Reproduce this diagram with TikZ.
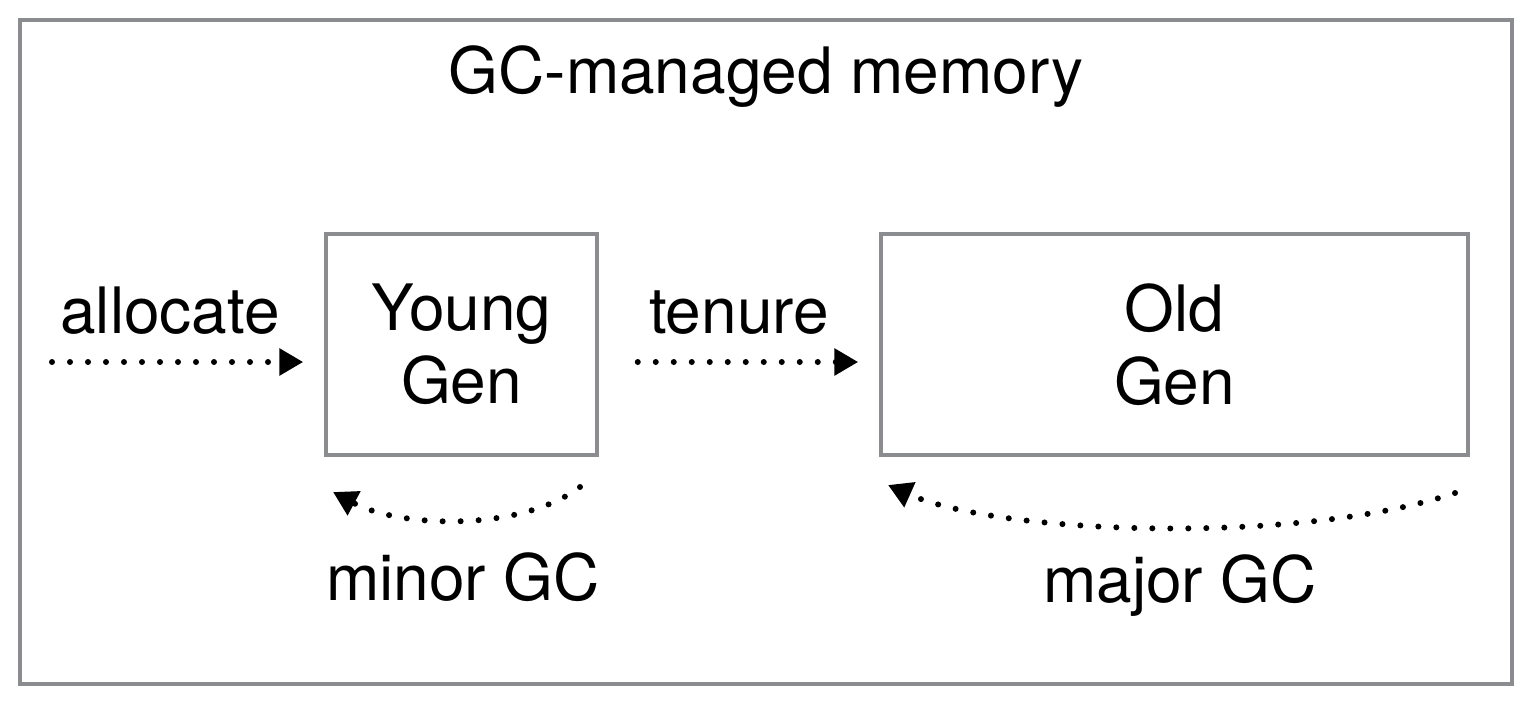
\documentclass[tikz,border=0pt]{standalone}
\usepackage{fontspec}
\setmainfont{TeX Gyre Heros}
\usetikzlibrary{arrows.meta}
\definecolor{framegray}{HTML}{8A8C8F}
\tikzset{
  box/.style={draw=framegray, line width=3.5pt, rectangle, align=center, inner sep=0pt},
  lbl/.style={anchor=base, inner sep=0pt},
  dotarrow/.style={line width=6pt, line cap=round, dash pattern=on 0pt off 18pt,
    -{Triangle[length=24pt,width=26pt,line cap=butt]}},
}
\begin{document}
\begin{tikzpicture}[x=1pt,y=-1pt,font=\fontsize{64}{73}\selectfont]
\useasboundingbox (0,0) rectangle (1538,710);
\node[box, minimum width=1492pt, minimum height=664pt] (mem) at (766,352) {};
\node[lbl] (title) at (766,93) {GC-managed memory};
\node[box, minimum width=271pt, minimum height=221pt] (young) at (461.5,344.5) {Young\\Gen};
\node[box, minimum width=587pt, minimum height=221pt] (old) at (1174.5,344.5) {Old\\Gen};
\node[lbl] (alloc) at (170,333) {allocate};
\node[lbl] (tenure) at (739,333) {tenure};
\node[lbl] (minor) at (463,600) {minor GC};
\node[lbl] (major) at (1180,602) {major GC};
\coordinate (allocstart) at (52,362);
\coordinate (minorstart) at (580,487);
\coordinate (minorend) at (333,492);
\coordinate (majorstart) at (1455,493);
\coordinate (majorend) at (888,485);
\draw[dotarrow, shorten >=21pt] (allocstart) -- (young.west |- allocstart);
\draw[dotarrow, shorten <=39pt, shorten >=21pt] (young.east |- allocstart) -- (old.west |- allocstart);
\draw[dotarrow] (minorstart) .. controls (520,532) and (400,528) .. (minorend);
\draw[dotarrow] (majorstart) .. controls (1300,545) and (1000,535) .. (majorend);
\end{tikzpicture}
\end{document}
